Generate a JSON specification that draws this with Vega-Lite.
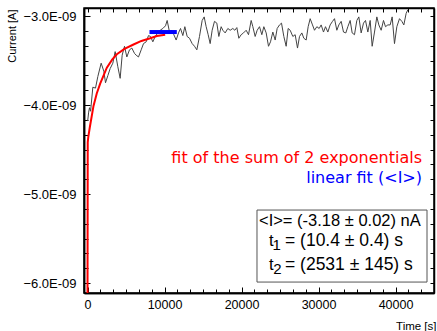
{
  "$schema": "https://vega.github.io/schema/vega-lite/v6.json",
  "width": 350,
  "height": 285,
  "autosize": {"type": "none"},
  "padding": {"left": 84, "top": 8, "right": 3, "bottom": 38},
  "background": "white",
  "config": {
    "view": {"stroke": "black", "strokeWidth": 1.5},
    "axis": {"domainColor": "black", "domainWidth": 1.5, "tickColor": "black", "tickWidth": 1, "labelColor": "black", "labelFont": "Liberation Sans", "titleFont": "Liberation Sans", "titleFontWeight": "normal", "titleColor": "black", "grid": false}
  },
  "datasets": {
    "measured": [
      {"time": 20, "current": -4.18}, {"time": 150, "current": -4.08}, {"time": 260, "current": -4.03}, {"time": 400, "current": -4.07},
      {"time": 693, "current": -3.80}, {"time": 1039, "current": -3.81}, {"time": 1342, "current": -3.68}, {"time": 1775, "current": -3.53},
      {"time": 2121, "current": -3.62}, {"time": 2338, "current": -3.75}, {"time": 2641, "current": -3.67}, {"time": 2944, "current": -3.59},
      {"time": 3290, "current": -3.53}, {"time": 3593, "current": -3.40}, {"time": 3939, "current": -3.57}, {"time": 4242, "current": -3.70},
      {"time": 4502, "current": -3.44}, {"time": 4805, "current": -3.34}, {"time": 5108, "current": -3.46}, {"time": 5454, "current": -3.38},
      {"time": 5757, "current": -3.36}, {"time": 6104, "current": -3.42}, {"time": 6320, "current": -3.44}, {"time": 6623, "current": -3.46},
      {"time": 6970, "current": -3.38}, {"time": 7273, "current": -3.31}, {"time": 7619, "current": -3.29}, {"time": 7922, "current": -3.22},
      {"time": 8182, "current": -3.23}, {"time": 8485, "current": -3.29}, {"time": 8788, "current": -3.23}, {"time": 9134, "current": -3.19},
      {"time": 9437, "current": -3.16}, {"time": 9784, "current": -3.14}, {"time": 10130, "current": -3.11}, {"time": 10346, "current": -3.05},
      {"time": 10649, "current": -3.18}, {"time": 10952, "current": -3.16}, {"time": 11212, "current": -3.21}, {"time": 11515, "current": -3.27},
      {"time": 11818, "current": -3.19}, {"time": 12078, "current": -3.14}, {"time": 12381, "current": -3.22}, {"time": 12641, "current": -3.12},
      {"time": 12944, "current": -3.23}, {"time": 13247, "current": -3.25}, {"time": 13593, "current": -3.31}, {"time": 13896, "current": -3.34},
      {"time": 14199, "current": -3.38}, {"time": 14545, "current": -3.23}, {"time": 14892, "current": -3.05}, {"time": 15152, "current": -3.01},
      {"time": 15411, "current": -3.12}, {"time": 15671, "current": -3.21}, {"time": 15931, "current": -3.31}, {"time": 16190, "current": -3.16},
      {"time": 16493, "current": -3.06}, {"time": 16796, "current": -3.08}, {"time": 17056, "current": -3.23}, {"time": 17359, "current": -3.12},
      {"time": 17575, "current": -3.16}, {"time": 17878, "current": -3.19}, {"time": 18225, "current": -3.14}, {"time": 18528, "current": -3.16},
      {"time": 18874, "current": -3.14}, {"time": 19134, "current": -3.16}, {"time": 19394, "current": -3.13}, {"time": 19653, "current": -3.25},
      {"time": 19956, "current": -3.21}, {"time": 20259, "current": -3.19}, {"time": 20606, "current": -3.16}, {"time": 20909, "current": -3.21},
      {"time": 21255, "current": -3.05}, {"time": 21472, "current": -3.12}, {"time": 21775, "current": -3.23}, {"time": 22035, "current": -3.16},
      {"time": 22338, "current": -3.12}, {"time": 22641, "current": -3.21}, {"time": 22901, "current": -3.12}, {"time": 23204, "current": -3.19},
      {"time": 23507, "current": -3.34}, {"time": 23767, "current": -3.29}, {"time": 24070, "current": -3.18}, {"time": 24373, "current": -3.27},
      {"time": 24632, "current": -3.14}, {"time": 24935, "current": -3.10}, {"time": 25195, "current": -3.08}, {"time": 25498, "current": -3.23},
      {"time": 25801, "current": -3.34}, {"time": 26061, "current": -3.14}, {"time": 26321, "current": -3.16}, {"time": 26667, "current": -3.23},
      {"time": 26970, "current": -3.21}, {"time": 27273, "current": -3.36}, {"time": 27533, "current": -3.23}, {"time": 27836, "current": -3.19},
      {"time": 28096, "current": -3.25}, {"time": 28399, "current": -3.27}, {"time": 28658, "current": -3.12}, {"time": 28918, "current": -3.03},
      {"time": 29221, "current": -3.10}, {"time": 29481, "current": -3.16}, {"time": 29784, "current": -3.12}, {"time": 30087, "current": -3.14},
      {"time": 30346, "current": -3.10}, {"time": 30649, "current": -3.18}, {"time": 30909, "current": -3.12}, {"time": 31212, "current": -3.18},
      {"time": 31515, "current": -3.10}, {"time": 31818, "current": -3.06}, {"time": 32078, "current": -3.03}, {"time": 32381, "current": -3.16},
      {"time": 32641, "current": -3.10}, {"time": 32944, "current": -3.06}, {"time": 33247, "current": -3.18}, {"time": 33550, "current": -3.19},
      {"time": 33809, "current": -3.12}, {"time": 34112, "current": -3.05}, {"time": 34372, "current": -3.19}, {"time": 34675, "current": -3.21},
      {"time": 34978, "current": -3.05}, {"time": 35238, "current": -3.01}, {"time": 35541, "current": -3.19}, {"time": 35844, "current": -3.08},
      {"time": 36104, "current": -3.05}, {"time": 36407, "current": -3.18}, {"time": 36710, "current": -3.05}, {"time": 36970, "current": -3.34},
      {"time": 37273, "current": -3.18}, {"time": 37576, "current": -3.01}, {"time": 37835, "current": -3.10}, {"time": 38138, "current": -3.16},
      {"time": 38441, "current": -3.05}, {"time": 38701, "current": -3.12}, {"time": 39004, "current": -3.10}, {"time": 39307, "current": -3.10},
      {"time": 39567, "current": -3.01}, {"time": 39870, "current": -3.31}, {"time": 40173, "current": -3.12}, {"time": 40519, "current": -3.03},
      {"time": 40822, "current": -3.06}, {"time": 41082, "current": -3.10}, {"time": 41385, "current": -2.97}, {"time": 41602, "current": -2.93}
    ],
    "expfit": [
      {"time": 0, "current": -6.3}, {"time": 30, "current": -4.42}, {"time": 100, "current": -4.36}, {"time": 300, "current": -4.25},
      {"time": 779, "current": -4.01}, {"time": 1200, "current": -3.87}, {"time": 1645, "current": -3.76}, {"time": 2511, "current": -3.58},
      {"time": 3200, "current": -3.49}, {"time": 3810, "current": -3.43}, {"time": 4800, "current": -3.37}, {"time": 5974, "current": -3.32},
      {"time": 7000, "current": -3.28}, {"time": 8139, "current": -3.25}, {"time": 9000, "current": -3.225}, {"time": 10087, "current": -3.21}
    ],
    "linfit": [
      {"time": 8050, "current": -3.18}, {"time": 11600, "current": -3.18}
    ],
    "anchor": [{}]
  },
  "layer": [
    {
      "data": {"name": "measured"},
      "mark": {"type": "line", "color": "#444444", "strokeWidth": 1, "clip": true},
      "encoding": {
        "x": {"field": "time", "type": "quantitative", "scale": {"domain": [-455, 45000], "nice": false, "zero": false},
          "axis": {"orient": "bottom", "values": [0, 10000, 20000, 30000, 40000], "format": "d", "tickSize": -6, "labelPadding": 11, "labelFontSize": 12.5,
            "title": "Time [s]", "titleFontSize": 11.5, "titleX": 352, "titleY": 36, "titleAlign": "right", "titleBaseline": "alphabetic", "titleAnchor": null}},
        "y": {"field": "current", "type": "quantitative", "scale": {"domain": [-6.112, -2.91], "nice": false, "zero": false},
          "axis": {"orient": "left", "values": [-6, -5, -4, -3], "labelExpr": "format(datum.value, '.1f') + 'E-09'", "tickSize": -6, "labelPadding": 14, "labelFontSize": 13,
            "title": "Current [A]", "titleFontSize": 11, "titleX": -72, "titleY": 1, "titleAngle": 270, "titleAlign": "right", "titleBaseline": "middle", "titleAnchor": null}}
      }
    },
    {
      "data": {"name": "expfit"},
      "mark": {"type": "line", "color": "#ff0000", "strokeWidth": 2, "clip": true},
      "encoding": {
        "x": {"field": "time", "type": "quantitative",
          "axis": {"orient": "bottom", "values": [1666.67, 3333.33, 5000, 6666.67, 8333.33, 11666.67, 13333.33, 15000, 16666.67, 18333.33, 21666.67, 23333.33, 25000, 26666.67, 28333.33, 31666.67, 33333.33, 35000, 36666.67, 38333.33, 41666.67, 43333.33], "labels": false, "tickSize": -4, "title": null}},
        "y": {"field": "current", "type": "quantitative",
          "axis": {"orient": "left", "values": [-5.8333, -5.6667, -5.5, -5.3333, -5.1667, -4.8333, -4.6667, -4.5, -4.3333, -4.1667, -3.8333, -3.6667, -3.5, -3.3333, -3.1667], "labels": false, "tickSize": -4, "title": null}}
      }
    },
    {
      "data": {"name": "linfit"},
      "mark": {"type": "line", "color": "#0000ff", "strokeWidth": 4},
      "encoding": {
        "x": {"field": "time", "type": "quantitative",
          "axis": {"orient": "top", "values": [0, 1666.67, 3333.33, 5000, 6666.67, 8333.33, 10000, 11666.67, 13333.33, 15000, 16666.67, 18333.33, 20000, 21666.67, 23333.33, 25000, 26666.67, 28333.33, 30000, 31666.67, 33333.33, 35000, 36666.67, 38333.33, 40000, 41666.67, 43333.33], "labels": false, "tickSize": -4, "title": null}},
        "y": {"field": "current", "type": "quantitative",
          "axis": {"orient": "right", "values": [-6, -5.8333, -5.6667, -5.5, -5.3333, -5.1667, -5, -4.8333, -4.6667, -4.5, -4.3333, -4.1667, -4, -3.8333, -3.6667, -3.5, -3.3333, -3.1667, -3], "labels": false, "tickSize": -4, "title": null}}
      }
    },
    {
      "data": {"name": "anchor"},
      "mark": {"type": "rect", "fill": "white", "stroke": "#555555", "strokeWidth": 1},
      "encoding": {
        "x": {"datum": 22012, "type": "quantitative", "axis": null},
        "x2": {"datum": 44091},
        "y": {"datum": -5.180, "type": "quantitative", "axis": null},
        "y2": {"datum": -5.989}
      }
    },
    {
      "data": {"name": "anchor"},
      "mark": {"type": "text", "align": "right", "baseline": "middle", "font": "DejaVu Sans", "fontSize": 16, "color": "#ff0000"},
      "encoding": {"x": {"datum": 43441, "type": "quantitative", "axis": null}, "y": {"datum": -4.596, "type": "quantitative", "axis": null}, "text": {"value": "fit of the sum of 2 exponentials"}}
    },
    {
      "data": {"name": "anchor"},
      "mark": {"type": "text", "align": "right", "baseline": "middle", "font": "DejaVu Sans", "fontSize": 16, "color": "#0000ff"},
      "encoding": {"x": {"datum": 43441, "type": "quantitative", "axis": null}, "y": {"datum": -4.820, "type": "quantitative", "axis": null}, "text": {"value": "linear fit (<I>)"}}
    },
    {
      "data": {"name": "anchor"},
      "mark": {"type": "text", "align": "left", "baseline": "alphabetic", "font": "Liberation Sans", "fontSize": 16.5, "color": "black"},
      "encoding": {"x": {"datum": 22272, "type": "quantitative", "axis": null}, "y": {"datum": -5.360, "type": "quantitative", "axis": null}, "text": {"value": "<I>= (-3.18 ± 0.02) nA"}}
    },
    {
      "data": {"name": "anchor"},
      "mark": {"type": "text", "align": "left", "baseline": "alphabetic", "font": "Liberation Sans", "fontSize": 16.5, "color": "black"},
      "encoding": {"x": {"datum": 23571, "type": "quantitative", "axis": null}, "y": {"datum": -5.584, "type": "quantitative", "axis": null}, "text": {"value": "t"}}
    },
    {
      "data": {"name": "anchor"},
      "mark": {"type": "text", "align": "left", "baseline": "alphabetic", "font": "Liberation Sans", "fontSize": 15, "color": "black"},
      "encoding": {"x": {"datum": 24025, "type": "quantitative", "axis": null}, "y": {"datum": -5.629, "type": "quantitative", "axis": null}, "text": {"value": "1"}}
    },
    {
      "data": {"name": "anchor"},
      "mark": {"type": "text", "align": "left", "baseline": "alphabetic", "font": "Liberation Sans", "fontSize": 17.5, "color": "black"},
      "encoding": {"x": {"datum": 25649, "type": "quantitative", "axis": null}, "y": {"datum": -5.584, "type": "quantitative", "axis": null}, "text": {"value": "= (10.4 ± 0.4) s"}}
    },
    {
      "data": {"name": "anchor"},
      "mark": {"type": "text", "align": "left", "baseline": "alphabetic", "font": "Liberation Sans", "fontSize": 16.5, "color": "black"},
      "encoding": {"x": {"datum": 23571, "type": "quantitative", "axis": null}, "y": {"datum": -5.854, "type": "quantitative", "axis": null}, "text": {"value": "t"}}
    },
    {
      "data": {"name": "anchor"},
      "mark": {"type": "text", "align": "left", "baseline": "alphabetic", "font": "Liberation Sans", "fontSize": 15, "color": "black"},
      "encoding": {"x": {"datum": 24129, "type": "quantitative", "axis": null}, "y": {"datum": -5.899, "type": "quantitative", "axis": null}, "text": {"value": "2"}}
    },
    {
      "data": {"name": "anchor"},
      "mark": {"type": "text", "align": "left", "baseline": "alphabetic", "font": "Liberation Sans", "fontSize": 17.5, "color": "black"},
      "encoding": {"x": {"datum": 25649, "type": "quantitative", "axis": null}, "y": {"datum": -5.854, "type": "quantitative", "axis": null}, "text": {"value": "= (2531 ± 145) s"}}
    }
  ],
  "resolve": {"axis": {"x": "independent", "y": "independent"}}
}
